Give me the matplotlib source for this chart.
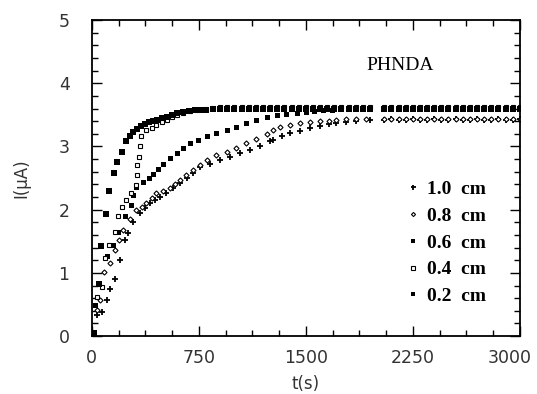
import matplotlib
matplotlib.use('Agg')
from matplotlib import pyplot as plt
from matplotlib.ticker import MultipleLocator
from matplotlib.transforms import ScaledTranslation

# plateau sample times (gap in the record near 2000 s)
t_mid = [800, 850, 900, 950, 1000, 1050, 1100, 1150, 1200, 1250, 1300, 1350,
         1400, 1450, 1500, 1550, 1600, 1650, 1700, 1750, 1800, 1850, 1900, 1950]
t_late = [2050, 2100, 2150, 2200, 2250, 2300, 2350, 2400, 2450, 2500, 2550, 2600,
          2650, 2700, 2750, 2800, 2850, 2900, 2950, 3000]

# 0.2 cm
t02 = [16, 47, 63, 98, 119, 157, 173, 208, 243, 270, 290, 320, 345, 370, 400, 430,
       455, 490, 525, 560, 600, 640, 680, 720, 760] + t_mid + t_late
i02 = [0.05, 0.82, 1.43, 1.93, 2.30, 2.58, 2.76, 2.92, 3.08, 3.16, 3.23, 3.28, 3.32,
       3.35, 3.38, 3.40, 3.42, 3.45, 3.47, 3.50, 3.53, 3.55, 3.56, 3.57, 3.58,
       3.58, 3.59, 3.59, 3.60, 3.59, 3.60, 3.59, 3.59, 3.60, 3.59, 3.60, 3.59,
       3.59, 3.60, 3.59, 3.59, 3.60, 3.59, 3.60, 3.59, 3.59, 3.60, 3.59, 3.60,
       3.59, 3.60, 3.59, 3.59, 3.60, 3.59, 3.60, 3.59, 3.59, 3.60, 3.59, 3.59,
       3.60, 3.59, 3.60, 3.59, 3.59, 3.60, 3.59, 3.60]

# 0.4 cm
t04 = [33, 68, 91, 122, 161, 184, 215, 238, 273, 308, 315, 320, 332, 337, 348, 383,
       420, 453, 490, 524, 560, 594, 640, 690, 740] + t_mid + t_late
i04 = [0.62, 0.78, 1.23, 1.44, 1.64, 1.90, 2.04, 2.15, 2.27, 2.39, 2.55, 2.71, 2.84,
       3.00, 3.16, 3.26, 3.30, 3.34, 3.38, 3.42, 3.46, 3.50, 3.53, 3.56, 3.58,
       3.60, 3.61, 3.62, 3.62, 3.63, 3.62, 3.63, 3.62, 3.62, 3.63, 3.62, 3.63,
       3.62, 3.62, 3.63, 3.62, 3.63, 3.62, 3.62, 3.63, 3.62, 3.63, 3.62, 3.62,
       3.63, 3.62, 3.63, 3.62, 3.62, 3.63, 3.62, 3.63, 3.62, 3.62, 3.63, 3.62,
       3.63, 3.62, 3.62, 3.63, 3.62, 3.63, 3.62, 3.62]

# 0.6 cm
t06 = [21, 51, 103, 147, 184, 231, 278, 290, 313, 360, 400, 430, 465, 500, 545, 594,
       640, 687, 745, 804, 870, 944, 1010, 1084, 1150, 1225, 1300, 1360, 1435, 1500,
       1560, 1620, 1680, 1740, 1800, 1850, 1900, 1950] + t_late
i06 = [0.49, 0.82, 1.26, 1.44, 1.65, 1.90, 2.07, 2.23, 2.36, 2.44, 2.50, 2.57, 2.65,
       2.73, 2.81, 2.89, 2.97, 3.05, 3.11, 3.16, 3.21, 3.26, 3.31, 3.37, 3.42, 3.47,
       3.50, 3.52, 3.53, 3.55, 3.56, 3.57, 3.58, 3.59, 3.60, 3.61, 3.60, 3.61,
       3.61, 3.60, 3.61, 3.60, 3.61, 3.61, 3.60, 3.61, 3.60, 3.61, 3.61, 3.60,
       3.61, 3.60, 3.61, 3.61, 3.60, 3.61, 3.60, 3.61]

# 0.8 cm
t08 = [33, 56, 84, 126, 161, 190, 219, 266, 313, 350, 383, 420, 453, 500, 547, 580,
       617, 660, 710, 760, 804, 870, 944, 1010, 1084, 1150, 1225, 1270, 1318, 1390,
       1458, 1530, 1600, 1660, 1715, 1780, 1850, 1920] + t_late
i08 = [0.41, 0.57, 1.01, 1.15, 1.36, 1.52, 1.68, 1.86, 1.99, 2.05, 2.10, 2.18, 2.26,
       2.30, 2.34, 2.40, 2.47, 2.55, 2.63, 2.71, 2.79, 2.86, 2.92, 2.98, 3.05, 3.12,
       3.20, 3.26, 3.31, 3.34, 3.37, 3.39, 3.40, 3.41, 3.42, 3.43, 3.43, 3.44,
       3.44, 3.43, 3.44, 3.44, 3.43, 3.44, 3.44, 3.43, 3.44, 3.44, 3.43, 3.44,
       3.44, 3.43, 3.44, 3.44, 3.43, 3.44, 3.44, 3.43]

# 1.0 cm
t10 = [33, 68, 103, 126, 161, 196, 231, 252, 290, 337, 370, 407, 440, 477, 520, 570,
       617, 664, 710, 757, 830, 897, 970, 1037, 1110, 1178, 1248, 1271, 1330, 1388,
       1460, 1528, 1600, 1660, 1715, 1780, 1850, 1950] + t_late
i10 = [0.33, 0.38, 0.57, 0.74, 0.91, 1.20, 1.52, 1.63, 1.81, 1.94, 2.02, 2.10, 2.15,
       2.20, 2.27, 2.34, 2.42, 2.50, 2.58, 2.67, 2.73, 2.79, 2.84, 2.89, 2.95, 3.00,
       3.08, 3.10, 3.16, 3.21, 3.25, 3.29, 3.32, 3.35, 3.37, 3.39, 3.41, 3.42,
       3.42, 3.43, 3.42, 3.42, 3.43, 3.42, 3.42, 3.43, 3.42, 3.42, 3.43, 3.42,
       3.42, 3.43, 3.42, 3.42, 3.43, 3.42, 3.42, 3.43]

labels = ['1.0  cm', '0.8  cm', '0.6  cm', '0.4  cm', '0.2  cm']
xticks = [0, 750, 1500, 2250, 3000]
yticks = [0, 1, 2, 3, 4, 5]

fig = plt.figure(figsize=(5.37, 3.94), dpi=100)
ax = fig.add_axes([0.171, 0.147, 0.797, 0.802])

h10, = ax.plot(t10, i10, '+', color='k', ms=4.5, mew=1.3, label=labels[0])
h08, = ax.plot(t08, i08, 'D', color='k', ms=2.6, mew=0.8, mfc='white', label=labels[1])
h06, = ax.plot(t06, i06, 's', color='k', ms=3.6, mew=0, label=labels[2])
h04, = ax.plot(t04, i04, 's', color='k', ms=3.4, mew=0.8, mfc='white', label=labels[3])
h02, = ax.plot(t02, i02, 's', color='k', ms=4.0, mew=0, label=labels[4])

ax.set_xlim(0, 3000)
ax.set_ylim(0, 5)
ax.set_xticks(xticks)
ax.set_yticks(yticks)
ax.xaxis.set_minor_locator(MultipleLocator(187.5))
ax.yaxis.set_minor_locator(MultipleLocator(0.2))
ax.tick_params(which='both', direction='in', top=True, right=True, width=1.0)
ax.tick_params(which='major', length=7, labelsize=12.5, labelcolor='#333333')
ax.tick_params(axis='y', which='major', pad=16)
ax.tick_params(axis='x', which='major', pad=9)
ax.tick_params(which='minor', length=4)
for s in ax.spines.values():
    s.set_linewidth(1.3)

# last x label sits a little left of its tick, as in the original
lab = ax.get_xticklabels()[-1]
lab.set_transform(lab.get_transform() + ScaledTranslation(-10 / 100, 0, fig.dpi_scale_trans))

ax.set_xlabel('t(s)', fontsize=12, color='#333333', labelpad=6)
ax.set_ylabel('I(\u00b5A)', fontsize=12, color='#333333', labelpad=20)

ax.text(0.72, 0.855, 'PHNDA', transform=ax.transAxes, ha='center', va='center',
        family='Liberation Serif', fontsize=14)

ax.legend(handles=[h10, h08, h06, h04, h02], loc='center left',
          bbox_to_anchor=(0.697, 0.295), frameon=False, handlelength=0.6,
          handletextpad=0.4, labelspacing=0.47, markerscale=0.8,
          prop={'family': 'Liberation Serif', 'weight': 'bold', 'size': 14})

fig.savefig('out.png', dpi=100)
